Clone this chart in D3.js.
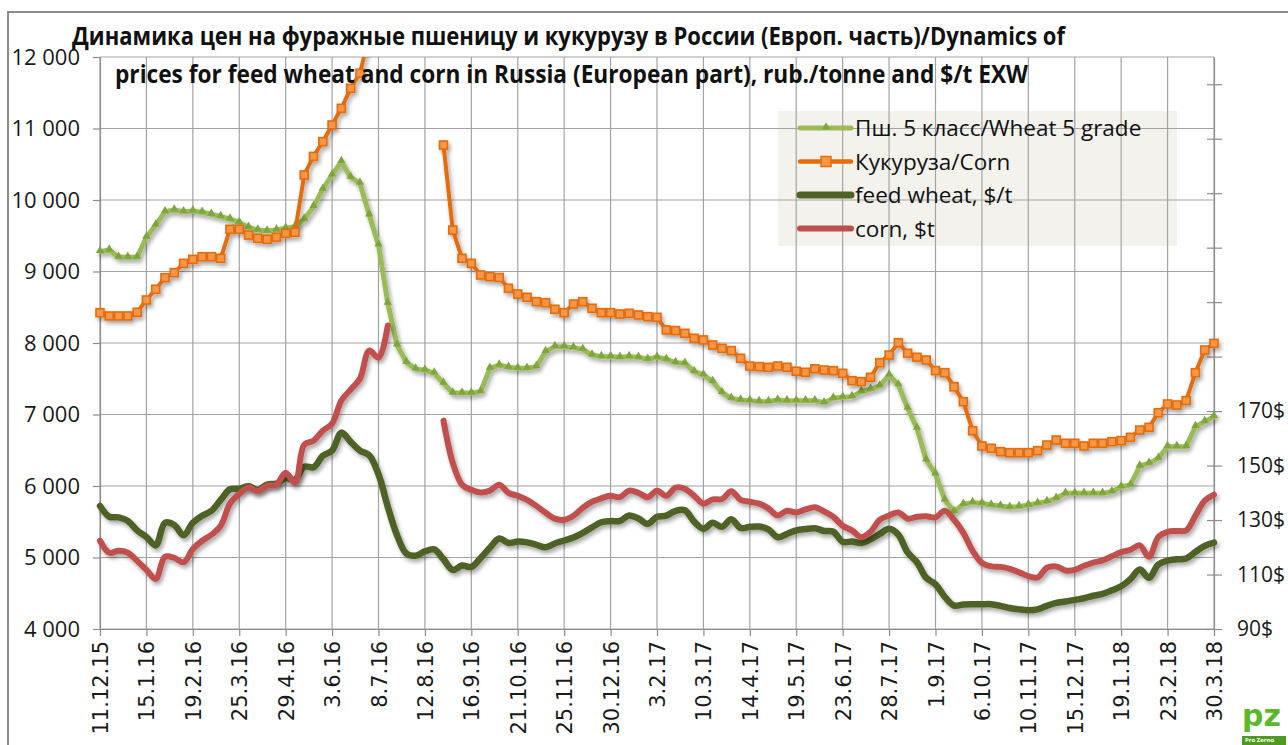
<!DOCTYPE html>
<html>
<head>
<meta charset="utf-8">
<script src="https://cdn.jsdelivr.net/npm/d3@7"></script>
<style>
  body { margin: 0; background: #fff; }
  svg { display: block; }
</style>
</head>
<body>
<div id="chart"></div>
<script>
// weekly prices, 11.12.15 .. 30.3.18 (121 weeks)
const tickLabels = ["11.12.15", "15.1.16", "19.2.16", "25.3.16", "29.4.16", "3.6.16", "8.7.16",
  "12.8.16", "16.9.16", "21.10.16", "25.11.16", "30.12.16", "3.2.17", "10.3.17", "14.4.17",
  "19.5.17", "23.6.17", "28.7.17", "1.9.17", "6.10.17", "10.11.17", "15.12.17", "19.1.18",
  "23.2.18", "30.3.18"];

const leftTicks = [4000, 5000, 6000, 7000, 8000, 9000, 10000, 11000, 12000];
const rightTicks = [90, 110, 130, 150, 170, 190, 210, 230, 250, 270, 290];

// Пш. 5 класс, rub/t
const wheatRub = [
  9277, 9301, 9199, 9199, 9199, 9479, 9650, 9836, 9860, 9836,
  9846, 9828, 9800, 9767, 9734, 9683, 9618, 9580, 9566, 9580,
  9604, 9627, 9730, 9907, 10150, 10350, 10536, 10318, 10234, 9790,
  9371, 8556, 7972, 7730, 7635, 7620, 7580, 7436, 7300, 7300,
  7300, 7319, 7646, 7692, 7660, 7646, 7646, 7669, 7879, 7949,
  7949, 7935, 7911, 7832, 7809, 7809, 7800, 7809, 7800, 7772,
  7800, 7772, 7725, 7716, 7599, 7553, 7460, 7305, 7226, 7203,
  7194, 7180, 7180, 7203, 7190, 7193, 7193, 7193, 7165, 7226,
  7240, 7250, 7320, 7353, 7399, 7552, 7413, 7087, 6807, 6364,
  6168, 5804, 5641, 5744, 5767, 5758, 5734, 5720, 5702, 5711,
  5734, 5758, 5781, 5828, 5897, 5897, 5897, 5897, 5897, 5920,
  5990, 6013, 6280, 6317, 6387, 6550, 6550, 6550, 6830, 6900,
  6970];

// Кукуруза, rub/t
const cornRub = [
  8424, 8378, 8378, 8378, 8429, 8601, 8751, 8914, 8984, 9114,
  9170, 9207, 9207, 9184, 9590, 9590, 9510, 9464, 9450, 9478,
  9534, 9548, 10350, 10610, 10816, 11049, 11282, 11562, 11772, 12300,
  12700, 13000, null, null, null, null, null, 10769, 9580, 9184,
  9114, 8951, 8928, 8916, 8765, 8685, 8639, 8578, 8564, 8471,
  8424, 8545, 8578, 8485, 8424, 8424, 8406, 8415, 8392, 8368,
  8359, 8182, 8173, 8135, 8066, 8043, 7972, 7925, 7893, 7786,
  7678, 7669, 7660, 7678, 7660, 7605, 7590, 7640, 7622, 7613,
  7576, 7473, 7459, 7520, 7725, 7832, 8004, 7856, 7800, 7762,
  7614, 7585, 7389, 7179, 6773, 6560, 6527, 6480, 6466, 6466,
  6466, 6494, 6573, 6643, 6597, 6597, 6560, 6597, 6597, 6620,
  6634, 6680, 6783, 6820, 7025, 7147, 7133, 7194, 7585, 7902,
  7995];

// feed wheat, $/t
const wheatUsd = [
  135.2, 131.2, 131, 129.7, 126.2, 123.8, 120.7, 129, 128.2, 124.4,
  129, 131.6, 133.4, 137.4, 141.3, 141.5, 142.4, 141.1, 143, 143.4,
  145.4, 144.8, 149.6, 149.4, 153.6, 155.5, 162.1, 158.7, 155.5, 153.8,
  146.8, 134.9, 124.4, 117.7, 116.9, 118.5, 119.2, 115.6, 111.7, 113.3,
  112.8, 116.1, 119.8, 123.2, 121.6, 122.1, 121.8, 120.9, 120, 121.4,
  122.5, 123.6, 125.3, 127.3, 129.2, 129.6, 129.7, 131.7, 130.6, 128.6,
  131.2, 131.6, 133.4, 133.6, 129.4, 126.8, 129, 127.5, 130.3, 127.1,
  127.5, 127.6, 126.6, 123.7, 124.9, 126.2, 126.7, 127, 126, 125.7,
  122, 122.1, 121.6, 122.9, 124.9, 126.8, 124.6, 118.1, 114.5, 108.8,
  106.4, 101.8, 98.6, 99, 99.1, 99.1, 99.1, 98.5, 97.7, 97.2,
  96.9, 97.2, 98.5, 99.6, 100.1, 100.7, 101.3, 102.2, 102.9, 104.2,
  105.7, 108.3, 111.8, 108.8, 113.7, 115.1, 115.6, 115.9, 118.3, 120.5,
  121.7];

// corn, $/t
const cornUsd = [
  122.4, 118, 118.7, 118, 115, 111.7, 108.4, 116.5, 116.1, 114.5,
  119.4, 122.4, 124.6, 127.9, 136, 139.6, 141.9, 140.6, 142.6, 143,
  147.4, 143.7, 157.7, 159.1, 162.8, 165.4, 173.9, 177.9, 181.9, 192.2,
  189.6, 201.4, null, null, null, null, null, 166.5, 151, 143,
  141.1, 140.1, 140.8, 143, 140, 138.9, 137.4, 135.2, 132.7, 130.5,
  130.1, 131.6, 134.5, 136.7, 138, 138.9, 138.4, 140.8, 140, 138.4,
  140.8, 138.9, 141.9, 141.5, 138.9, 136, 137.6, 137.7, 140.6, 137.4,
  136.7, 136, 134.3, 131.7, 133.4, 132.8, 133.9, 134.7, 133.2, 131.2,
  127.9, 126.2, 123.7, 125.7, 130.1, 131.7, 132.8, 130.5, 131.2, 131.4,
  131, 133.4, 130.1, 125.3, 118.7, 114.3, 113, 112.8, 112.1, 110.8,
  109.4, 108.9, 112.5, 113, 111.5, 111.7, 113.2, 114.4, 115.2, 116.7,
  118.2, 119.1, 120.7, 116.5, 123.8, 125.7, 126, 126.2, 131.6, 137.1,
  139.3];

const W = 1288, H = 745;
const plot = { left: 100, right: 1214, top: 57, bottom: 629 };
const font = "'Open Sans', 'Noto Sans', sans-serif";

const svg = d3.select("#chart").append("svg")
    .attr("width", W)
    .attr("height", H);

const x = d3.scaleLinear().domain([0, wheatRub.length - 1]).range([plot.left, plot.right]);
const yL = d3.scaleLinear().domain([4000, 12000]).range([plot.bottom, plot.top]);
const yR = d3.scaleLinear().domain([90, 300]).range([plot.bottom, plot.top]);
const labelIdx = tickLabels.map((d, i) => i * 5);

const defs = svg.append("defs");
defs.append("clipPath").attr("id", "plotclip")
    .append("rect")
    .attr("x", plot.left - 10).attr("y", plot.top)
    .attr("width", plot.right - plot.left + 20).attr("height", plot.bottom - plot.top + 10);

const sh = defs.append("filter").attr("id", "shadow")
    .attr("filterUnits", "userSpaceOnUse")
    .attr("x", 0).attr("y", 0).attr("width", W).attr("height", H);
sh.append("feGaussianBlur").attr("in", "SourceAlpha").attr("stdDeviation", 2);
sh.append("feOffset").attr("dx", 2).attr("dy", 3).attr("result", "off");
sh.append("feComponentTransfer").append("feFuncA").attr("type", "linear").attr("slope", 0.35);
const merge = sh.append("feMerge");
merge.append("feMergeNode");
merge.append("feMergeNode").attr("in", "SourceGraphic");

// frame
svg.append("rect")
    .attr("x", 8).attr("y", 12)
    .attr("width", 1300).attr("height", 800)
    .attr("fill", "none")
    .attr("stroke", "#8c8c8c")
    .attr("stroke-width", 2);

// legend background (gridlines show through it)
svg.append("rect")
    .attr("x", 778).attr("y", 111)
    .attr("width", 399).attr("height", 135)
    .attr("fill", "#f3f2ed");

// gridlines
svg.append("g").selectAll("line")
    .data(leftTicks)
    .join("line")
    .attr("x1", plot.left).attr("x2", plot.right)
    .attr("y1", d => yL(d)).attr("y2", d => yL(d))
    .attr("stroke", "#a3a3a3").attr("stroke-width", 1.2);

svg.append("g").selectAll("line")
    .data(labelIdx)
    .join("line")
    .attr("x1", d => x(d)).attr("x2", d => x(d))
    .attr("y1", plot.top).attr("y2", plot.bottom)
    .attr("stroke", "#a3a3a3").attr("stroke-width", 1.2);

// axes
function styleAxis(g, size) {
    g.selectAll(".domain").attr("stroke", "#8c8c8c").attr("stroke-width", 1.2);
    g.selectAll(".tick line").attr("stroke", "#8c8c8c").attr("stroke-width", 1.2);
    g.selectAll("text").attr("fill", "#1a1a1a").style("font-family", font).style("font-size", size + "px");
}

const fmt = d => d3.format(",")(d).replace(",", " ");
const gL = svg.append("g")
    .attr("transform", `translate(${plot.left},0)`)
    .call(d3.axisLeft(yL).tickValues(leftTicks).tickSize(7).tickSizeOuter(0).tickPadding(13).tickFormat(fmt));
styleAxis(gL, 22);

const gR = svg.append("g")
    .attr("transform", `translate(${plot.right},0)`)
    .call(d3.axisRight(yR).tickValues(rightTicks).tickSize(8).tickSizeOuter(0).tickPadding(15)
        .tickFormat(d => d <= 170 ? d + "$" : ""));
gR.selectAll(".tick line").attr("x1", -7);
styleAxis(gR, 21);

const gB = svg.append("g")
    .attr("transform", `translate(0,${plot.bottom})`)
    .call(d3.axisBottom(x).tickValues(labelIdx).tickSize(7).tickSizeOuter(0).tickFormat((d, i) => tickLabels[i]));
styleAxis(gB, 21);
gB.selectAll("text")
    .style("font-family", "'DejaVu Sans', sans-serif")
    .attr("transform", "rotate(-90)")
    .attr("text-anchor", "end")
    .attr("x", -12)
    .attr("y", 0)
    .attr("dy", "0.36em");

// series
const plotG = svg.append("g").attr("clip-path", "url(#plotclip)");

const lineL = d3.line().defined(d => d != null).x((d, i) => x(i)).y(d => yL(d));
const lineR = d3.line().defined(d => d != null).x((d, i) => x(i)).y(d => yR(d)).curve(d3.curveCatmullRom.alpha(0.5));

const gWheat = plotG.append("g").attr("filter", "url(#shadow)");
gWheat.append("path").datum(wheatRub)
    .attr("d", lineL)
    .attr("fill", "none").attr("stroke", "#9bbb59").attr("stroke-width", 5).attr("stroke-linejoin", "round");
gWheat.selectAll("path.m")
    .data(wheatRub.map((v, i) => ({ v, i })))
    .join("path").attr("class", "m")
    .attr("d", d3.symbol(d3.symbolTriangle, 30))
    .attr("transform", d => `translate(${x(d.i)},${yL(d.v) - 1})`)
    .attr("fill", "#7fa53c");

const gCorn = plotG.append("g").attr("filter", "url(#shadow)");
gCorn.append("path").datum(cornRub)
    .attr("d", lineL)
    .attr("fill", "none").attr("stroke", "#e46c0a").attr("stroke-width", 4).attr("stroke-linejoin", "round");
gCorn.selectAll("rect")
    .data(cornRub.map((v, i) => ({ v, i })).filter(d => d.v != null))
    .join("rect")
    .attr("x", d => x(d.i) - 4).attr("y", d => yL(d.v) - 4)
    .attr("width", 8).attr("height", 8)
    .attr("fill", "#f79646").attr("stroke", "#e46c0a").attr("stroke-width", 1.6);

plotG.append("path").datum(wheatUsd)
    .attr("d", lineR)
    .attr("filter", "url(#shadow)")
    .attr("fill", "none").attr("stroke", "#4f6228").attr("stroke-width", 6.5)
    .attr("stroke-linecap", "round").attr("stroke-linejoin", "round");

plotG.append("path").datum(cornUsd)
    .attr("d", lineR)
    .attr("filter", "url(#shadow)")
    .attr("fill", "none").attr("stroke", "#c0504d").attr("stroke-width", 6)
    .attr("stroke-linecap", "round").attr("stroke-linejoin", "round");

// legend
const legendItems = [
    { name: "Пш. 5 класс/Wheat 5 grade", color: "#9bbb59", w: 5, marker: "tri" },
    { name: "Кукуруза/Corn", color: "#e46c0a", w: 4.5, marker: "sq" },
    { name: "feed wheat, $/t", color: "#4f6228", w: 7, marker: null },
    { name: "corn, $t", color: "#c0504d", w: 6, marker: null }
];
const lg = svg.append("g").attr("transform", "translate(800,128)");
const row = lg.selectAll("g").data(legendItems).join("g")
    .attr("transform", (d, i) => `translate(0,${i * 33.5})`);
row.append("line")
    .attr("x1", 0).attr("x2", 51)
    .attr("stroke", d => d.color).attr("stroke-width", d => d.w).attr("stroke-linecap", "round");
row.filter(d => d.marker === "tri").append("path")
    .attr("d", d3.symbol(d3.symbolTriangle, 30))
    .attr("transform", "translate(26,-1)")
    .attr("fill", "#7fa53c");
row.filter(d => d.marker === "sq").append("rect")
    .attr("x", 21).attr("y", -5).attr("width", 10).attr("height", 10)
    .attr("fill", "#f79646").attr("stroke", "#e46c0a").attr("stroke-width", 1.5);
row.append("text")
    .attr("x", 55).attr("y", 0).attr("dy", "0.36em")
    .style("font-family", font).style("font-size", "22.5px")
    .attr("fill", "#111")
    .text(d => d.name);

// title
const title = svg.append("g")
    .style("font-family", font).style("font-weight", "bold").style("font-size", "25px")
    .attr("fill", "#111");
title.append("text").attr("x", 72).attr("y", 45)
    .attr("textLength", 993).attr("lengthAdjust", "spacingAndGlyphs")
    .text("Динамика цен на фуражные пшеницу и кукурузу в России (Европ. часть)/Dynamics of");
title.append("text").attr("x", 115).attr("y", 83)
    .attr("textLength", 913).attr("lengthAdjust", "spacingAndGlyphs")
    .text("prices for feed wheat and corn in Russia (European part), rub./tonne and $/t EXW");

// logo
const logo = svg.append("g").attr("transform", "translate(1242,700)");
logo.append("text")
    .attr("x", 0).attr("y", 26)
    .style("font-family", "'DejaVu Sans', sans-serif").style("font-weight", "bold").style("font-size", "30px")
    .attr("fill", "#5cb82a")
    .text("pz");
logo.append("rect").attr("x", 0).attr("y", 36).attr("width", 44).attr("height", 9).attr("fill", "#4e9a22");
logo.append("text")
    .attr("x", 3).attr("y", 42)
    .style("font-family", font).style("font-size", "6px").style("font-weight", "bold")
    .attr("fill", "#fff")
    .text("Pro  Zerno");
</script>
</body>
</html>
